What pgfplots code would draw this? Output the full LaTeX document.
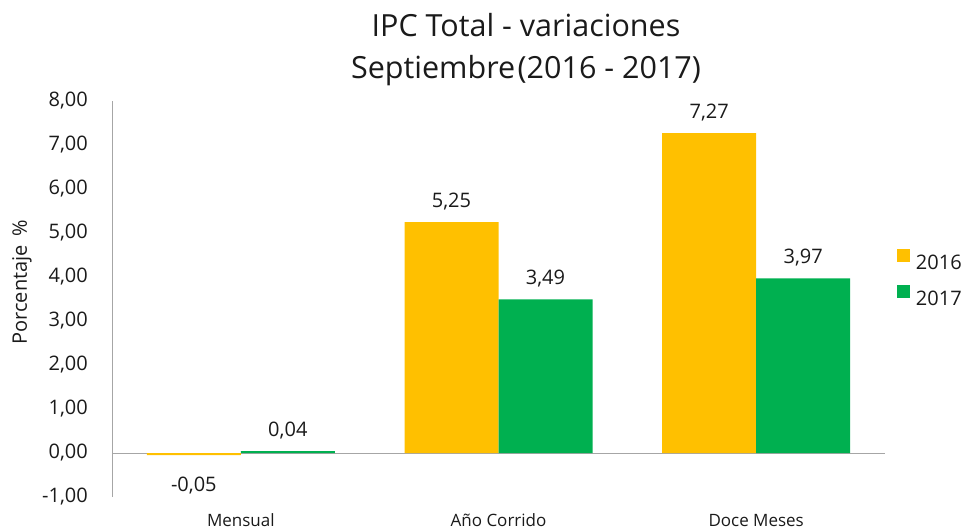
\documentclass[border=0pt]{standalone}
\usepackage{pgfplots}
\pgfplotsset{compat=1.18}
\usepackage{fontspec}
\setmainfont{Open Sans}
\definecolor{c2016}{HTML}{FFC000}
\definecolor{c2017}{HTML}{00B050}
\definecolor{axisgray}{HTML}{A6A6A6}
\definecolor{txt}{HTML}{1A1A1A}
\begin{document}
\begin{tikzpicture}
\useasboundingbox (-112pt,-34pt) rectangle (853pt,497pt);
\begin{axis}[
  at={(0pt,0pt)}, anchor=south west,
  width=773pt, height=396pt, scale only axis,
  ymin=-1, ymax=8, ytick={-1,0,...,8},
  xmin=-0.5, xmax=2.5, xtick={0,1,2},
  xticklabels={Mensual, Año Corrido, Doce Meses},
  enlargelimits=false,
  ybar=0pt, bar width=94pt,
  axis lines*=left, axis line style={-},
  x axis line style={draw=none},
  y axis line style={draw=axisgray, line width=0.9pt},
  tick style={draw=none},
  /pgf/number format/assume math mode=true,
  yticklabel style={font=\fontsize{20}{24}\selectfont, text=txt, inner sep=0pt, anchor=east, xshift=-24pt,
    /pgf/number format/fixed, /pgf/number format/fixed zerofill,
    /pgf/number format/precision=2, /pgf/number format/use comma},
  xticklabel style={font=\fontsize{17}{20}\selectfont, text=txt, inner sep=0pt, anchor=base, yshift=-25pt},
  visualization depends on={rawy \as \rawy},
  nodes near coords={\pgfmathprintnumber[fixed,fixed zerofill,precision=2,use comma,assume math mode=true]{\pgfplotspointmeta}},
  every node near coord/.append style={font=\fontsize{20}{24}\selectfont, text=txt, inner sep=0pt, anchor=base},
  every node near coord/.append code={\ifdim\rawy pt<0pt \pgfkeysalso{yshift=-36pt}\else\pgfkeysalso{yshift=15pt}\fi},
  legend style={draw=none, fill=none, inner sep=0pt, outer sep=0pt,
    at={(rel axis cs:1.0155,0.626)}, anchor=north west,
    font=\fontsize{20}{24}\selectfont, text=txt,
    nodes={inner sep=0pt}, row sep=14.5pt,
    /tikz/every odd column/.append style={column sep=6pt}},
  legend cell align=left,
  legend image code/.code={\fill[#1, draw=none] (0pt,0.5pt) rectangle (13pt,13.5pt);},
]
\draw[axisgray, line width=0.9pt] (axis cs:-0.5,0) -- (axis cs:2.5,0);
\addplot[fill=c2016, draw=none] coordinates {(0,-0.05) (1,5.25) (2,7.27)};
\addplot[fill=c2017, draw=none] coordinates {(0,0.04) (1,3.49) (2,3.97)};
\legend{2016, 2017}
\end{axis}
\node[font=\fontsize{30.5}{36}\selectfont, text=txt, anchor=base] at (414pt,460pt) {IPC Total - variaciones};
\node[font=\fontsize{30.5}{36}\selectfont, text=txt, anchor=base] at (414pt,418pt) {Septiembre\hspace{0.08em}(2016 - 2017)};
\node[font=\fontsize{20}{24}\selectfont, text=txt, rotate=90, anchor=center] at (-90pt,215pt) {Porcentaje\hspace{0.45em}\%};
\end{tikzpicture}
\end{document}
